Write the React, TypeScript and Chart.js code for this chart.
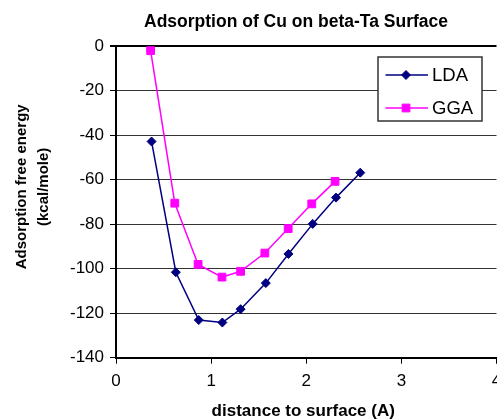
import React, { useEffect, useRef } from "react";
import { Chart, registerables } from "chart.js";

Chart.register(...registerables);

const chartTitle = "Adsorption of Cu on beta-Ta Surface";
const xAxisTitle = "distance to surface (A)";
const yAxisTitle = ["Adsorption free energy", "(kcal/mole)"];

const ldaLabel = "LDA";
const ldaX = [0.374, 0.629, 0.87, 1.118, 1.31, 1.575, 1.813, 2.068, 2.313, 2.568];
const ldaY = [-42.9, -101.6, -123.1, -124.2, -118.2, -106.5, -93.4, -79.9, -68.1, -56.9];

const ggaLabel = "GGA";
const ggaX = [0.364, 0.618, 0.863, 1.114, 1.31, 1.565, 1.81, 2.058, 2.303];
const ggaY = [-2.1, -70.6, -98.1, -103.8, -101.2, -93.0, -82.0, -70.9, -60.8];

const xMin = 0;
const xMax = 4;
const xStep = 1;
const yMin = -140;
const yMax = 0;
const yStep = 20;

const FONT = "'Liberation Sans', Arial, Helvetica, sans-serif";

function drawMarker(ctx: CanvasRenderingContext2D, style: string, x: number, y: number, r: number, color: string) {
  ctx.save();
  ctx.fillStyle = color;
  ctx.strokeStyle = color;
  ctx.lineWidth = 1;
  ctx.beginPath();
  if (style === "rectRot") {
    ctx.moveTo(x, y - r);
    ctx.lineTo(x + r, y);
    ctx.lineTo(x, y + r);
    ctx.lineTo(x - r, y);
    ctx.closePath();
  } else {
    const s = Math.SQRT1_2 * r;
    ctx.rect(x - s, y - s, 2 * s, 2 * s);
  }
  ctx.fill();
  ctx.stroke();
  ctx.restore();
}

const textPlugin = {
  id: "customText",
  afterDraw(chart: any) {
    const ctx: CanvasRenderingContext2D = chart.ctx;
    const area = chart.chartArea;
    ctx.save();
    ctx.fillStyle = "#000";

    // Chart title
    ctx.font = `bold 17.5px ${FONT}`;
    ctx.textAlign = "center";
    ctx.textBaseline = "alphabetic";
    ctx.fillText(chartTitle, area.left + 180, area.top - 19);

    // X axis title
    ctx.font = `bold 17px ${FONT}`;
    ctx.fillText(xAxisTitle, (area.left + area.right) / 2 - 3, area.bottom + 58);

    // Y axis title (rotated)
    ctx.font = `bold 15px ${FONT}`;
    const cy = (area.top + area.bottom) / 2 - 15;
    ctx.save();
    ctx.translate(area.left - 90, cy);
    ctx.rotate(-Math.PI / 2);
    ctx.fillText(yAxisTitle[0], 0, 0);
    ctx.restore();
    ctx.save();
    ctx.translate(area.left - 68, cy);
    ctx.rotate(-Math.PI / 2);
    ctx.fillText(yAxisTitle[1], 0, 0);
    ctx.restore();

    // Legend box
    const bx = area.right - 118.5;
    const by = area.top + 11;
    const bw = 104;
    const bh = 64;
    ctx.fillStyle = "#fff";
    ctx.fillRect(bx, by, bw, bh);
    ctx.strokeStyle = "#333";
    ctx.lineWidth = 1.5;
    ctx.strokeRect(bx, by, bw, bh);

    const datasets = chart.data.datasets;
    const rows = [by + 18, by + 51];
    datasets.forEach((ds: any, i: number) => {
      const y = rows[i];
      ctx.strokeStyle = ds.borderColor;
      ctx.lineWidth = 1.5;
      ctx.beginPath();
      ctx.moveTo(bx + 7.5, y);
      ctx.lineTo(bx + 50, y);
      ctx.stroke();
      drawMarker(ctx, ds.pointStyle, bx + 28, y, ds.pointRadius, ds.pointBackgroundColor);
      ctx.fillStyle = "#000";
      ctx.font = `18.5px ${FONT}`;
      ctx.textAlign = "left";
      ctx.textBaseline = "middle";
      ctx.fillText(ds.label, bx + 54, y + 1);
    });
    ctx.restore();
  },
};

export default function App() {
  const canvasRef = useRef<HTMLCanvasElement | null>(null);

  useEffect(() => {
    if (!canvasRef.current) return;
    const chart = new Chart(canvasRef.current, {
      type: "scatter",
      data: {
        datasets: [
          {
            label: ldaLabel,
            data: ldaX.map((x, i) => ({ x, y: ldaY[i] })),
            showLine: true,
            borderColor: "#000080",
            backgroundColor: "#000080",
            pointBackgroundColor: "#000080",
            pointBorderColor: "#000080",
            borderWidth: 1.5,
            pointBorderWidth: 1,
            pointStyle: "rectRot",
            pointRadius: 4.5,
          },
          {
            label: ggaLabel,
            data: ggaX.map((x, i) => ({ x, y: ggaY[i] })),
            showLine: true,
            borderColor: "#FF00FF",
            backgroundColor: "#FF00FF",
            pointBackgroundColor: "#FF00FF",
            pointBorderColor: "#FF00FF",
            borderWidth: 1.5,
            pointBorderWidth: 1,
            pointStyle: "rect",
            pointRadius: 5.5,
          },
        ],
      },
      options: {
        animation: false,
        responsive: false,
        maintainAspectRatio: false,
        devicePixelRatio: 1,
        layout: { padding: { top: 46, right: 5, bottom: 0, left: 0 } },
        plugins: {
          legend: { display: false },
          title: { display: false },
          tooltip: { enabled: false },
        },
        scales: {
          x: {
            type: "linear",
            min: xMin,
            max: xMax,
            afterFit: (scale: any) => {
              scale.height = 61.3;
              scale.paddingRight = 0;
              scale.paddingLeft = 0;
            },
            ticks: {
              stepSize: xStep,
              color: "#000",
              font: { family: FONT, size: 17 },
              padding: 7,
              maxRotation: 0,
            },
            grid: {
              drawOnChartArea: false,
              drawTicks: true,
              tickLength: 6,
              tickColor: "#000",
              tickWidth: 1,
            },
            border: { display: true, color: "#000", width: 2 },
          },
          y: {
            type: "linear",
            min: yMin,
            max: yMax,
            afterFit: (scale: any) => {
              scale.width = 116;
            },
            ticks: {
              stepSize: yStep,
              color: "#000",
              font: { family: FONT, size: 17 },
              padding: 6,
            },
            grid: {
              drawTicks: true,
              tickLength: 6,
              tickColor: "#000",
              color: (c: any) => (c.tick && c.tick.value === 0 ? "#000" : "#333"),
              lineWidth: (c: any) => (c.tick && c.tick.value === 0 ? 2 : 1),
            },
            border: { display: true, color: "#000", width: 2 },
          },
        },
      },
      plugins: [textPlugin],
    });
    return () => chart.destroy();
  }, []);

  return (
    <div
      style={{
        position: "fixed",
        left: 0,
        top: 0,
        width: 497,
        height: 419,
        overflow: "hidden",
        background: "#fff",
      }}
    >
      <canvas ref={canvasRef} width={503} height={419} style={{ display: "block", width: 503, height: 419 }} />
    </div>
  );
}
